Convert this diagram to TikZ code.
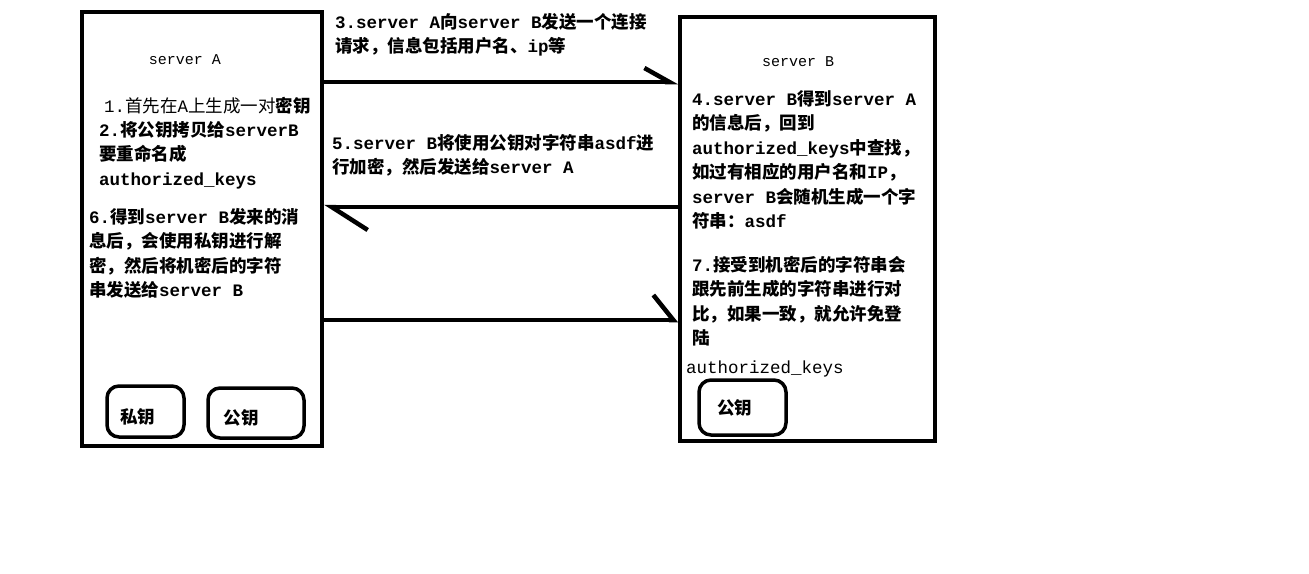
\documentclass[tikz,border=0pt]{standalone}
\usepackage{fontspec}
\setmainfont{Noto Sans CJK SC}
\newfontfamily\mono{Liberation Mono}
\usetikzlibrary{arrows.meta}
\newcommand\lt[1]{{\mono #1}}

\tikzset{
  server/.style={draw, line width=4pt, inner sep=0pt},
  keybox/.style={draw, line width=3.5pt, rounded corners=12pt, inner sep=0pt},
  keytxt/.style={font=\fontsize{17.5}{20}\selectfont\bfseries, inner sep=0pt},
  msg/.style={line width=4.5pt},
  txt/.style={anchor=north west, align=left, inner sep=0pt, font=\fontsize{17.5}{24.5}\selectfont\bfseries},
  title/.style={inner sep=0pt, font=\fontsize{15}{17}\selectfont\mono},
}

\begin{document}
\begin{tikzpicture}[x=1pt, y=-1pt]
\useasboundingbox (0,0) rectangle (1309,573);

% Servers
\node[server, minimum width=240pt, minimum height=434pt] (serverA) at (202,229) {};
\node[server, minimum width=255pt, minimum height=424pt] (serverB) at (807.5,229) {};

\node[title] (titleA) at (185,60) {server A};
\node[title] (titleB) at (798,62) {server B};

% Keys
\node[keybox, minimum width=77pt, minimum height=51pt,
      label={[keytxt, xshift=-8pt, yshift=-5pt]center:私钥}] (privA) at (145.5,411.5) {};
\node[keybox, minimum width=96pt, minimum height=50pt,
      label={[keytxt, xshift=-15pt, yshift=-5pt]center:公钥}] (pubA) at (256,413) {};
\node[keybox, minimum width=87pt, minimum height=55pt,
      label={[keytxt, xshift=-8pt, yshift=0pt]center:公钥}] (pubB) at (742.5,407.5) {};

% Steps on server A
\node[txt, font=\fontsize{17.5}{24.5}\selectfont] (stepA1) at (104,97)
  {\lt{1.}首先在\lt{A}上生成一对\textbf{密钥}};
\node[txt] (stepA2) at (99,121)
  {\lt{2.}将公钥拷贝给\lt{serverB}\\要重命名成\\\lt{authorized\_keys}};
\node[txt] (stepA6) at (89,208)
  {\lt{6.}得到\lt{server B}发来的消\\息后，会使用私钥进行解\\密，然后将机密后的字符\\串发送给\lt{server B}};

% Steps on server B
\node[txt] (stepB4) at (692,90)
  {\lt{4.server B}得到\lt{server A}\\的信息后，回到\\\lt{authorized\_keys}中查找，\\如过有相应的用户名和\lt{IP}，\\\lt{server B}会随机生成一个字\\符串：\lt{asdf}};
\node[txt] (stepB7) at (692,256)
  {\lt{7.}接受到机密后的字符串会\\跟先前生成的字符串进行对\\比，如果一致，就允许免登\\陆};
\node[anchor=base west, inner sep=0pt, font=\fontsize{17.5}{20}\selectfont\mono] (keysB) at (686,373) {authorized\_keys};

% Messages
\node[txt] (msg3) at (335,13)
  {\lt{3.server A}向\lt{server B}发送一个连接\\请求，信息包括用户名、\lt{ip}等};
\node[txt] (msg5) at (332,134)
  {\lt{5.server B}将使用公钥对字符串\lt{asdf}进\\行加密，然后发送给\lt{server A}};

\draw[msg, -{Straight Barb[harpoon, length=25pt, width=28pt]}]
  (serverA.east |- 0,82) -- (serverB.west |- 0,82);
\draw[msg, -{Straight Barb[harpoon, length=36pt, width=46pt]}]
  (serverB.west |- 0,207) -- (serverA.east |- 0,207);
\draw[msg, -{Straight Barb[harpoon, length=20pt, width=50pt]}]
  (serverA.east |- 0,320) -- (serverB.west |- 0,320);

\end{tikzpicture}
\end{document}
